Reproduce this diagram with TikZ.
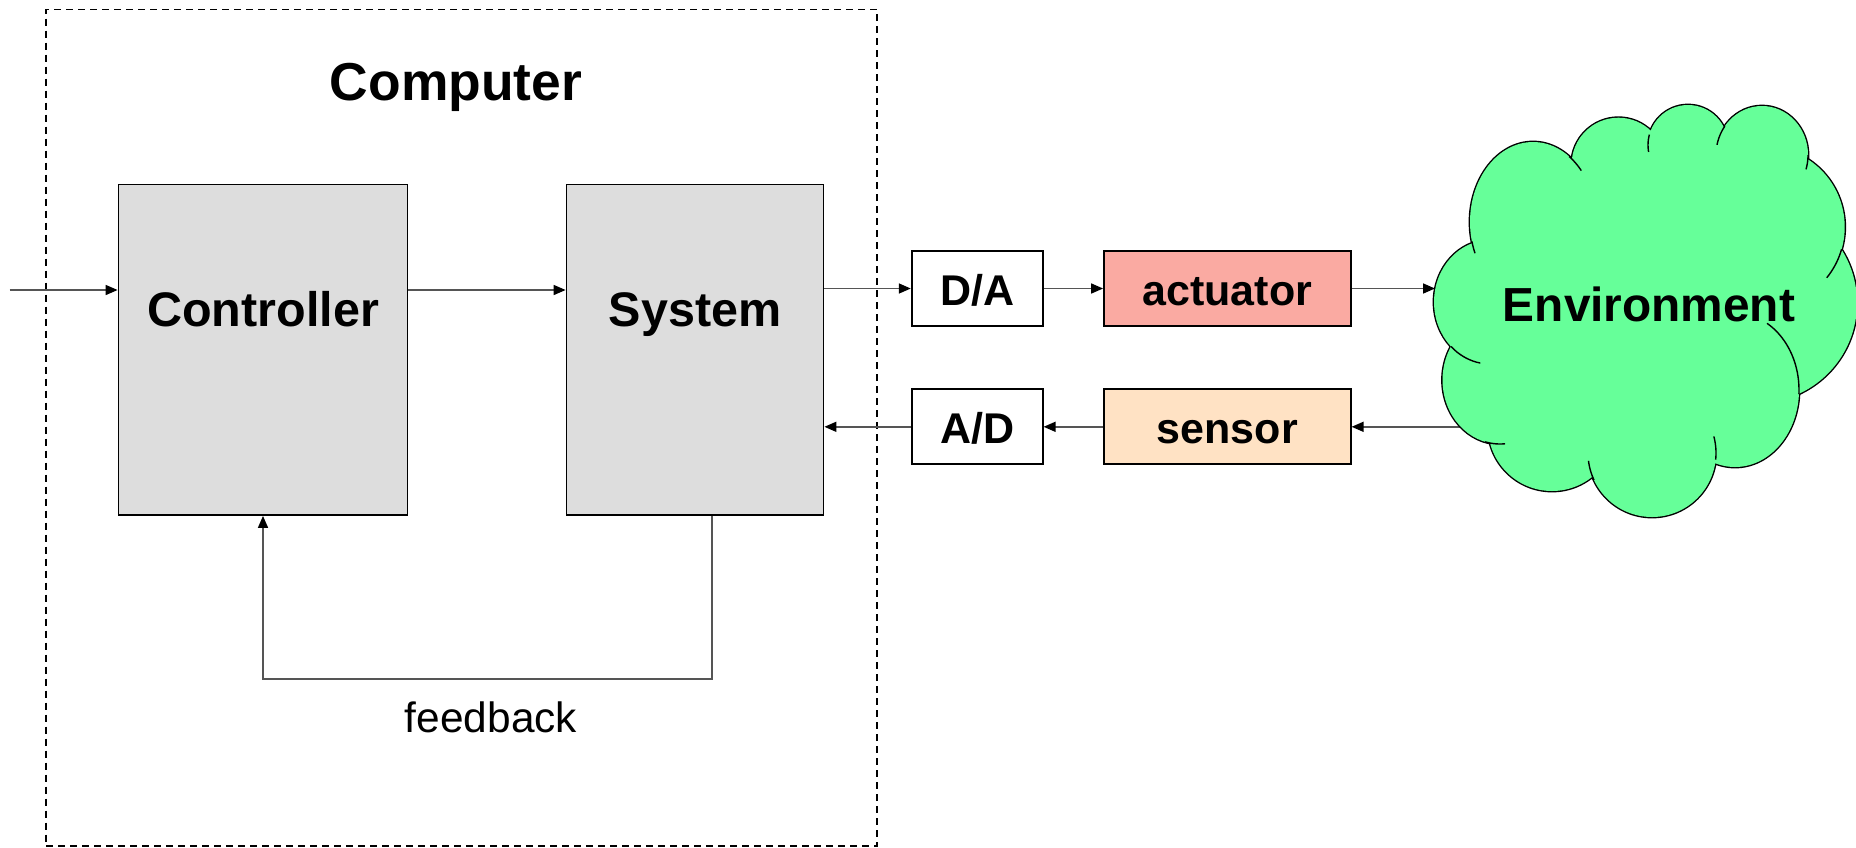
\documentclass[tikz,border=0pt]{standalone}
\usepackage{fontspec}
\setmainfont{Liberation Sans}
\usetikzlibrary{arrows.meta}
\definecolor{boxgray}{RGB}{221,221,221}
\definecolor{actred}{RGB}{250,170,162}
\definecolor{senspeach}{RGB}{255,226,196}
\definecolor{envgreen}{RGB}{102,255,153}
\definecolor{linegray}{RGB}{85,85,85}
\newcommand\cloudlobes{
 (1490,302) ellipse[x radius=28pt,y radius=31pt]
 (1533,222) ellipse[x radius=31.5pt,y radius=40pt]
 (1618.4,164.5) circle[radius=23.4pt]
 (1688,145) circle[radius=20pt]
 (1762,155) ellipse[x radius=23pt,y radius=24.5pt]
 (1764,227) circle[radius=40.35pt]
 (1757,303) circle[radius=50pt]
 (1735,390) ellipse[x radius=32pt,y radius=38.5pt]
 (1652,453) circle[radius=32pt]
 (1552,427) circle[radius=32pt]
 (1500,380) ellipse[x radius=28.75pt,y radius=32pt]
}
\tikzset{
  conn/.style={draw=linegray, line width=0.8pt, -{Triangle[length=6pt,width=5pt,color=black]}},
  bigbox/.style={draw=black, line width=0.9pt, fill=boxgray, inner sep=0pt,
     minimum height=165.25pt, text height=0pt, text depth=23.75pt,
     font=\fontsize{24.25pt}{29pt}\selectfont\bfseries},
  smallbox/.style={draw=black, line width=0.9pt, inner sep=0pt,
     minimum height=37.5pt, text height=16.5pt, text depth=0pt,
     font=\fontsize{21.5pt}{26pt}\selectfont\bfseries},
  cloudtick/.style={draw=black, line width=0.7pt},
}
\begin{document}
\begin{tikzpicture}[x=0.5pt,y=-0.5pt]
\useasboundingbox (0,0) rectangle (1856,847);
% computer frame
\node[draw=black, line width=0.65pt, dash pattern=on 3.5pt off 2.5pt, minimum width=415.5pt, minimum height=418.3pt, inner sep=0pt] (pc) at (461.5,427.6) {};
\node[anchor=base, font=\fontsize{26.7pt}{32pt}\selectfont\bfseries] (comp) at (456,100) {Computer};
% blocks
\node[bigbox, minimum width=144.5pt] (ctrl) at (263,349.75) {Controller};
\node[bigbox, minimum width=128.5pt] (sys) at (695,349.75) {System};
\node[smallbox, fill=white, minimum width=65.5pt] (da) at (977.2,288.5) {D/A};
\node[smallbox, fill=actred, minimum width=123.35pt] (act) at (1227.35,288.5) {actuator};
\node[smallbox, fill=white, minimum width=65.5pt] (ad) at (977.2,426.8) {A/D};
\node[smallbox, fill=senspeach, minimum width=123.35pt] (sens) at (1227.35,426.8) {sensor};
\node[anchor=base, font=\fontsize{21.2pt}{26pt}\selectfont] (fbT) at (491,732) {feedback};
% connectors
\coordinate (inpt) at (9.5,290);
\coordinate (fbrow) at (450,679);
\coordinate (envIn) at (1435,288.5);
\coordinate (envOut) at (1478,426.8);
\draw[conn] (inpt) -- (ctrl.west |- inpt);
\draw[conn] (ctrl.east |- inpt) -- (sys.west |- inpt);
\draw[conn] (sys.east |- da.west) -- (da.west);
\draw[conn] (da.east) -- (act.west);
\draw[conn] (envOut) -- (sens.east);
\draw[conn] (sens.west) -- (ad.east);
\draw[conn] (ad.west) -- (sys.east |- ad.west);
\draw[conn] ([xshift=8.4pt]sys.south) |- (fbrow) -| (ctrl.south);
% cloud
\draw[line width=1.4pt] \cloudlobes;
\fill[envgreen] \cloudlobes (1640,300) ellipse[x radius=75pt,y radius=65pt];
\draw[cloudtick] plot[domain=157:166,samples=10] ({1533+63*cos(\x)},{222+80*sin(\x)});
\draw[cloudtick] plot[domain=-55:-40,samples=10] ({1533+63*cos(\x)},{222+80*sin(\x)});
\draw[cloudtick] plot[domain=170:195,samples=10] ({1688+40*cos(\x)},{145+40*sin(\x)});
\draw[cloudtick] plot[domain=192:216,samples=10] ({1762+46*cos(\x)},{155+49*sin(\x)});
\draw[cloudtick] plot[domain=0:17,samples=10] ({1762+46*cos(\x)},{155+49*sin(\x)});
\draw[cloudtick] plot[domain=16:39,samples=10] ({1764+80.7*cos(\x)},{227+80.7*sin(\x)});
\draw[cloudtick] plot[domain=-60:3,samples=20] ({1735+64*cos(\x)},{390+77*sin(\x)});
\draw[cloudtick] plot[domain=-15:6,samples=10] ({1652+64*cos(\x)},{453+64*sin(\x)});
\draw[cloudtick] plot[domain=155:173,samples=10] ({1652+64*cos(\x)},{453+64*sin(\x)});
\draw[cloudtick] plot[domain=85:105,samples=10] ({1500+57.5*cos(\x)},{380+64*sin(\x)});
\draw[cloudtick] plot[domain=100:134,samples=10] ({1490+56*cos(\x)},{302+62*sin(\x)});
\draw[conn] (act.east) -- (envIn);
\node[anchor=base, font=\fontsize{23.9pt}{29pt}\selectfont\bfseries] (envT) at (1649,321.7) {Environment};
\end{tikzpicture}
\end{document}
